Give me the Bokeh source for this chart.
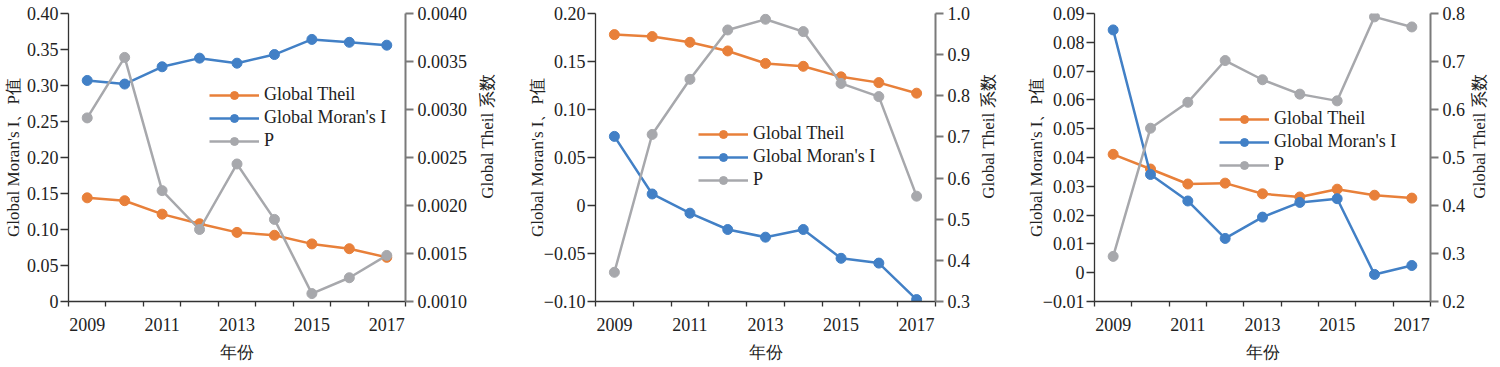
import math
from bokeh.plotting import figure
from bokeh.layouts import row
from bokeh.models import Range1d, LinearAxis, FixedTicker
from bokeh.core.properties import value
from bokeh.embed import file_html
from bokeh.resources import INLINE

years = [2009, 2010, 2011, 2012, 2013, 2014, 2015, 2016, 2017]
x_label_ticks = [2009, 2011, 2013, 2015, 2017]
x_minor_ticks = [2008.5, 2009.5, 2010.5, 2011.5, 2012.5, 2013.5, 2014.5, 2015.5, 2016.5, 2017.5]

# Panel 1 (Theil on right axis)
theil_1 = [0.00208, 0.00205, 0.00191, 0.00181, 0.00172, 0.00169, 0.00160, 0.00155, 0.00146]
moran_1 = [0.307, 0.302, 0.326, 0.338, 0.331, 0.343, 0.364, 0.360, 0.356]
p_1 = [0.255, 0.339, 0.154, 0.100, 0.191, 0.114, 0.011, 0.033, 0.064]
left_ticks_1 = [0, 0.05, 0.10, 0.15, 0.20, 0.25, 0.30, 0.35, 0.40]
left_labels_1 = ["0", "0.05", "0.10", "0.15", "0.20", "0.25", "0.30", "0.35", "0.40"]
right_ticks_1 = [0.0010, 0.0015, 0.0020, 0.0025, 0.0030, 0.0035, 0.0040]
right_labels_1 = ["0.0010", "0.0015", "0.0020", "0.0025", "0.0030", "0.0035", "0.0040"]

# Panel 2 (P on right axis)
theil_2 = [0.178, 0.176, 0.170, 0.161, 0.148, 0.145, 0.134, 0.128, 0.117]
moran_2 = [0.072, 0.012, -0.008, -0.025, -0.033, -0.025, -0.055, -0.060, -0.098]
p_2 = [0.371, 0.706, 0.840, 0.960, 0.986, 0.956, 0.830, 0.798, 0.556]
left_ticks_2 = [-0.10, -0.05, 0, 0.05, 0.10, 0.15, 0.20]
left_labels_2 = ["\u22120.10", "\u22120.05", "0", "0.05", "0.10", "0.15", "0.20"]
right_ticks_2 = [0.3, 0.4, 0.5, 0.6, 0.7, 0.8, 0.9, 1.0]
right_labels_2 = ["0.3", "0.4", "0.5", "0.6", "0.7", "0.8", "0.9", "1.0"]

# Panel 3 (P on right axis)
theil_3 = [0.0411, 0.0360, 0.0308, 0.0311, 0.0274, 0.0263, 0.0290, 0.0269, 0.0259]
moran_3 = [0.0843, 0.0341, 0.0249, 0.0119, 0.0193, 0.0244, 0.0257, -0.0006, 0.0025]
p_3 = [0.294, 0.561, 0.615, 0.702, 0.662, 0.632, 0.618, 0.793, 0.772]
left_ticks_3 = [-0.01, 0, 0.01, 0.02, 0.03, 0.04, 0.05, 0.06, 0.07, 0.08, 0.09]
left_labels_3 = ["\u22120.01", "0", "0.01", "0.02", "0.03", "0.04", "0.05", "0.06", "0.07", "0.08", "0.09"]
right_ticks_3 = [0.2, 0.3, 0.4, 0.5, 0.6, 0.7, 0.8]
right_labels_3 = ["0.2", "0.3", "0.4", "0.5", "0.6", "0.7", "0.8"]

series_names = ["Global Theil", "Global Moran's I", "P"]
x_title = "年份"
left_title = "Global Moran's I、P值"
right_title = "Global Theil 系数"

ORANGE = "#E8803A"
BLUE = "#4280C6"
GRAY = "#A7A8AC"
FONT = "Liberation Serif"
TICK_FS = "18px"
LABEL_FS = "17px"
AXIS_DARK = "#333333"
AXIS_GRAY = "#7a7a7a"

TOP = 13
FRAME_H = 288
TEXT_H = 351


def style_axis(ax, color, width):
    ax.axis_line_color = color
    ax.axis_line_width = width
    ax.major_tick_line_color = color
    ax.major_tick_line_width = width
    ax.minor_tick_line_color = color
    ax.major_label_text_font = FONT
    ax.major_label_text_font_size = TICK_FS
    ax.major_label_text_color = "#222222"
    ax.axis_label_text_font = FONT
    ax.axis_label_text_font_size = LABEL_FS
    ax.axis_label_text_font_style = "normal"
    ax.axis_label_text_color = "#222222"


def make_panel(frame_w, bl, br, y_left, y_right, lt, ll, rt, rl,
               data, on_right, leg_xy, left_standoff):
    p = figure(frame_width=frame_w, frame_height=FRAME_H, output_backend="svg",
               toolbar_location=None,
               x_range=Range1d(2008.5, 2017.5), y_range=Range1d(*y_left),
               min_border_left=bl, min_border_right=br, min_border_top=TOP,
               min_border_bottom=0)
    p.outline_line_color = None
    p.grid.visible = False
    p.background_fill_color = "white"
    p.border_fill_color = "white"
    p.extra_y_ranges = {"r": Range1d(*y_right)}

    # x axis
    xa = p.xaxis[0]
    xa.ticker = FixedTicker(ticks=x_label_ticks, minor_ticks=x_minor_ticks)
    style_axis(xa, AXIS_DARK, 1.3)
    xa.major_tick_out = 0
    xa.major_tick_in = 0
    xa.minor_tick_out = 5
    xa.minor_tick_in = 0
    xa.minor_tick_line_width = 1.3
    xa.major_label_standoff = 11
    xa.axis_label = x_title
    xa.axis_label_standoff = 9

    # left axis
    ya = p.yaxis[0]
    ya.ticker = FixedTicker(ticks=lt, minor_ticks=[])
    ya.major_label_overrides = dict(zip(lt, ll))
    style_axis(ya, AXIS_DARK, 1.3)
    ya.major_tick_out = 8
    ya.major_tick_in = 0
    ya.major_label_standoff = 2
    ya.axis_label = left_title
    ya.axis_label_standoff = left_standoff

    # right axis (its title is drawn in a narrow strip next to it)
    ra = LinearAxis(y_range_name="r", ticker=FixedTicker(ticks=rt, minor_ticks=[]))
    ra.major_label_overrides = dict(zip(rt, rl))
    style_axis(ra, AXIS_GRAY, 2)
    ra.major_tick_out = 8
    ra.major_tick_in = 0
    ra.major_label_standoff = 4
    p.add_layout(ra, "right")

    colors = [ORANGE, BLUE, GRAY]
    for name, vals, col in zip(series_names, data, colors):
        kw = {"y_range_name": "r"} if name in on_right else {}
        p.line(years, vals, line_color=col, line_width=2.5, legend_label=name, **kw)
        p.scatter(years, vals, marker="circle", size=10, fill_color=col, line_color=col,
                  legend_label=name, **kw)

    lg = p.legend[0]
    lg.location = leg_xy
    lg.padding = 0
    lg.margin = 0
    lg.spacing = 2
    lg.glyph_width = 50
    lg.glyph_height = 20
    lg.label_height = 20
    lg.label_standoff = 5
    lg.label_text_font = FONT
    lg.label_text_font_size = TICK_FS
    lg.label_text_color = "#222222"
    lg.background_fill_alpha = 0
    lg.border_line_color = None
    return p


def make_title_strip(width):
    t = figure(width=width, height=TEXT_H, output_backend="svg", toolbar_location=None,
               x_range=Range1d(0, width), y_range=Range1d(TEXT_H, 0),
               x_axis_type=None, y_axis_type=None, min_border=0)
    t.outline_line_color = None
    t.grid.visible = False
    t.background_fill_color = "white"
    t.border_fill_color = "white"
    t.text(x=[width / 2], y=[TOP + FRAME_H / 2], text=[right_title], angle=math.pi / 2,
           text_align="center", text_baseline="middle", text_font=value(FONT),
           text_font_size=value(LABEL_FS), text_color="#222222")
    return t


p1 = make_panel(337, 64, 73, (0, 0.4), (0.001, 0.004),
                left_ticks_1, left_labels_1, right_ticks_1, right_labels_1,
                [theil_1, moran_1, p_1], {"Global Theil"}, (141, 150), 1)
p2 = make_panel(340, 99, 44, (-0.1, 0.2), (0.3, 1.0),
                left_ticks_2, left_labels_2, right_ticks_2, right_labels_2,
                [theil_2, moran_2, p_2], {"P"}, (103, 111), -6)
p3 = make_panel(336, 97, 40, (-0.01, 0.09), (0.2, 0.8),
                left_ticks_3, left_labels_3, right_ticks_3, right_labels_3,
                [theil_3, moran_3, p_3], {"P"}, (125, 126), -6)

layout = row(p1, make_title_strip(18), p2, make_title_strip(18), p3, make_title_strip(18),
             spacing=0)
open("out.html", "w").write(file_html(layout, INLINE))
